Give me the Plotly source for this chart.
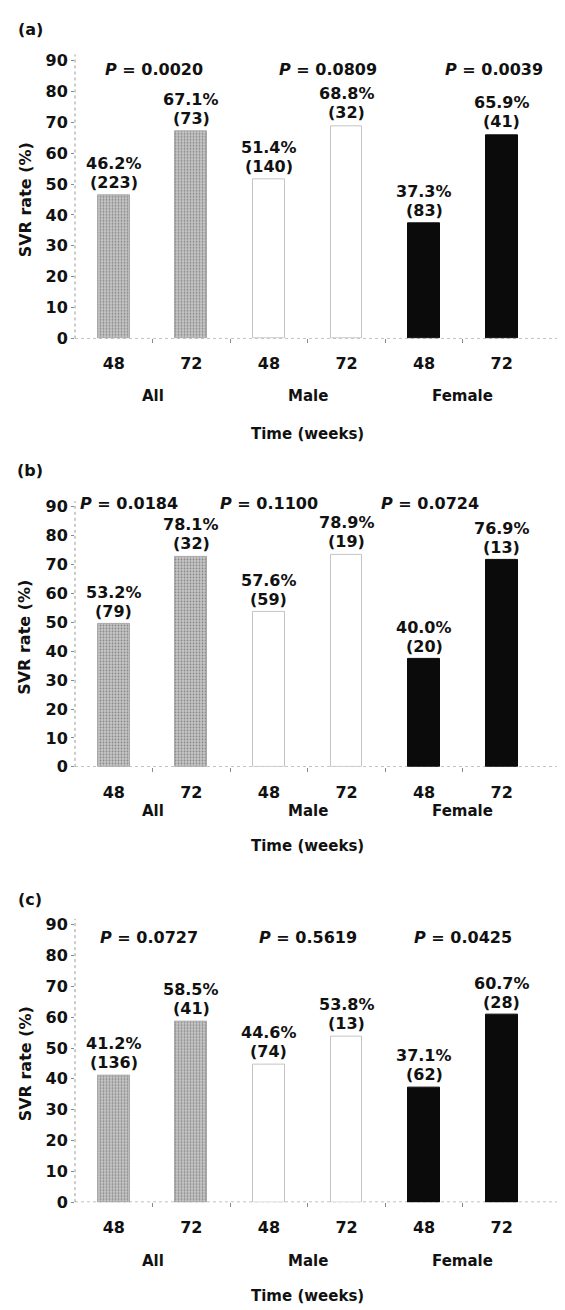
import plotly.graph_objects as go

# ---------------- data ----------------
weeks = ["48", "72", "48", "72", "48", "72"]
groups = ["All", "Male", "Female"]
panel_tags = ["(a)", "(b)", "(c)"]
y_ticks = [0, 10, 20, 30, 40, 50, 60, 70, 80, 90]

rate_a = [46.2, 67.1, 51.4, 68.8, 37.3, 65.9]
n_a = [223, 73, 140, 32, 83, 41]
p_a = ["0.0020", "0.0809", "0.0039"]

rate_b = [53.2, 78.1, 57.6, 78.9, 40.0, 76.9]
n_b = [79, 32, 59, 19, 20, 13]
p_b = ["0.0184", "0.1100", "0.0724"]
# bar heights as actually drawn in panel (b) of the reference
bar_b = [49.4, 72.6, 53.5, 73.4, 37.2, 71.5]

rate_c = [41.2, 58.5, 44.6, 53.8, 37.1, 60.7]
n_c = [136, 41, 74, 13, 62, 28]
p_c = ["0.0727", "0.5619", "0.0425"]

panels = [
    dict(tag=panel_tags[0], bars=rate_a, rates=rate_a, ns=n_a, ps=p_a),
    dict(tag=panel_tags[1], bars=bar_b, rates=rate_b, ns=n_b, ps=p_b),
    dict(tag=panel_tags[2], bars=rate_c, rates=rate_c, ns=n_c, ps=p_c),
]

# ---------------- layout geometry (pixels) ----------------
W, H = 565, 1310
FONT = "DejaVu Sans"
YMAX = 92
geo = [
    dict(base=330, unit=3.122, tag_y=18, p_y=58, p_x=[0.52, 2.76, 4.9], tick_y=360, grp_y=388, title_y=427),
    dict(base=763, unit=2.922, tag_y=463, p_y=497, p_x=[0.2, 2.0, 4.08], tick_y=785, grp_y=808, title_y=843),
    dict(base=1203, unit=3.115, tag_y=897, p_y=935, p_x=[0.45, 2.5, 4.5], tick_y=1232, grp_y=1262, title_y=1298),
]
X_LEFT_PX = 67
X_RANGE = [-0.5, 5.92]

def py(px):
    return 1 - px / H

fill_colors = ["#c6c6c6", "#c6c6c6", "#ffffff", "#ffffff", "#0b0b0b", "#0b0b0b"]
line_colors = ["#a8a8a8", "#a8a8a8", "#c4c4c4", "#c4c4c4", "#0b0b0b", "#0b0b0b"]
patterns = [".", ".", "", "", "", ""]

fig = go.Figure()
annotations = []
shapes = []

for k, (pn, g) in enumerate(zip(panels, geo)):
    xa = "x" if k == 0 else f"x{k+1}"
    ya = "y" if k == 0 else f"y{k+1}"
    xkey = "xaxis" if k == 0 else f"xaxis{k+1}"
    ykey = "yaxis" if k == 0 else f"yaxis{k+1}"
    xs = list(range(len(weeks)))

    fig.add_trace(go.Bar(
        x=xs, y=pn["bars"], xaxis=xa, yaxis=ya, width=0.41,
        marker=dict(color=fill_colors,
                    line=dict(color=line_colors, width=1),
                    pattern=dict(shape=patterns, fgcolor="#9a9a9a", bgcolor="#cbcbcb",
                                 size=3, solidity=0.3, fillmode="overlay")),
        showlegend=False, hoverinfo="skip",
    ))

    top_px = g["base"] - YMAX * g["unit"]
    fig.layout[xkey] = dict(
        domain=[X_LEFT_PX / W, 1.0], range=X_RANGE, anchor=ya,
        tickmode="array", tickvals=xs, ticktext=weeks, ticks="",
        ticklabelstandoff=14,
        tickfont=dict(family=FONT, size=16, color="#111", weight="bold"),
        showgrid=False, zeroline=False, showline=False, fixedrange=True,
        minor=dict(tickvals=[0.5, 1.5, 2.5, 3.5, 4.5], ticks="outside", ticklen=4,
                   tickcolor="#8a8a8a", tickwidth=1, showgrid=False),
    )
    fig.layout[ykey] = dict(
        domain=[py(g["base"]), py(top_px)], range=[0, YMAX], anchor=xa,
        tickmode="array", tickvals=y_ticks, ticks="outside", ticklen=3,
        tickcolor="#8a8a8a",
        tickfont=dict(family=FONT, size=16, color="#111", weight="bold"),
        showgrid=False, zeroline=False, showline=False, fixedrange=True,
    )

    # dotted axis lines
    shapes.append(dict(type="line", xref=f"{xa} domain", yref=ya, x0=0, x1=1, y0=0, y1=0,
                       line=dict(color="#8a8a8a", width=1, dash="dot"), layer="below"))
    shapes.append(dict(type="line", xref=f"{xa} domain", yref=ya, x0=0, x1=0, y0=0, y1=YMAX,
                       line=dict(color="#9a9a9a", width=1, dash="dot"), layer="below"))

    # value labels above bars
    for i, (h, r, n) in enumerate(zip(pn["bars"], pn["rates"], pn["ns"])):
        annotations.append(dict(x=i, y=h, xref=xa, yref=ya, text=f"{r:.1f}%", showarrow=False,
                                yanchor="middle", yshift=32,
                                font=dict(family=FONT, size=16, color="#111", weight="bold")))
        annotations.append(dict(x=i, y=h, xref=xa, yref=ya, text=f"({n})", showarrow=False,
                                yanchor="middle", yshift=13,
                                font=dict(family=FONT, size=16, color="#111", weight="bold")))

    # P values
    for j, p in enumerate(pn["ps"]):
        annotations.append(dict(x=g["p_x"][j], y=py(g["p_y"]), xref=xa, yref="paper",
                                text=f"<i>P</i> = {p}", showarrow=False, yanchor="middle",
                                font=dict(family=FONT, size=16, color="#111", weight="bold")))

    # group labels
    for j, grp in enumerate(groups):
        annotations.append(dict(x=2 * j + 0.5, y=py(g["grp_y"]), xref=xa, yref="paper",
                                text=grp, showarrow=False, yanchor="middle",
                                font=dict(family=FONT, size=15, color="#111", weight="bold")))

    # x axis title
    annotations.append(dict(x=2.5, y=py(g["title_y"]), xref=xa, yref="paper",
                            text="Time (weeks)", showarrow=False, yanchor="middle",
                            font=dict(family=FONT, size=15, color="#111", weight="bold")))
    # y axis title
    annotations.append(dict(x=17 / W, y=py((g["base"] + top_px) / 2 + 4), xref="paper", yref="paper",
                            text="SVR rate (%)", textangle=-90, showarrow=False,
                            xanchor="center", yanchor="middle",
                            font=dict(family=FONT, size=16, color="#111", weight="bold")))
    # panel tag
    annotations.append(dict(x=22 / W, y=py(g["tag_y"]), xref="paper", yref="paper",
                            text=pn["tag"], showarrow=False, xanchor="center", yanchor="middle",
                            font=dict(family=FONT, size=16, color="#111", weight="bold")))

fig.update_layout(
    width=W, height=H,
    margin=dict(l=0, r=0, t=0, b=0),
    paper_bgcolor="white", plot_bgcolor="white",
    annotations=annotations, shapes=shapes,
    bargap=0,
)

fig.write_html("out.html")
